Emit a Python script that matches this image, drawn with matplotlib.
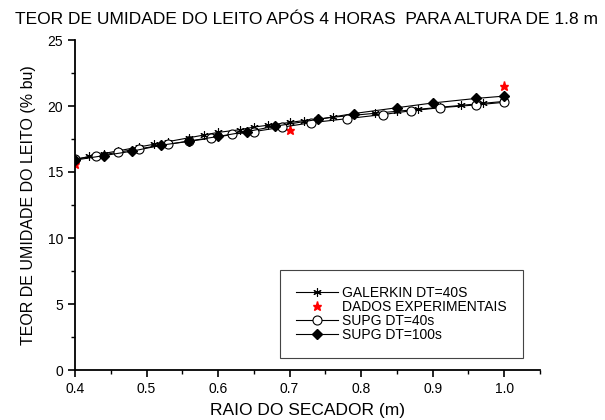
import numpy as np
import matplotlib.pyplot as plt
from matplotlib.ticker import MultipleLocator

plt.rcParams['font.family'] = ['Liberation Sans', 'DejaVu Sans']

# dados
galerkin_x = [0.40, 0.42, 0.44, 0.46, 0.49, 0.51, 0.53, 0.56, 0.58, 0.60, 0.63, 0.65,
              0.67, 0.70, 0.72, 0.74, 0.76, 0.79, 0.82, 0.85, 0.88, 0.91, 0.94, 0.97, 1.00]
galerkin_y = [15.9, 16.2, 16.4, 16.6, 16.9, 17.1, 17.3, 17.6, 17.8, 18.0, 18.2, 18.4,
              18.55, 18.75, 18.9, 19.0, 19.15, 19.3, 19.45, 19.6, 19.75, 19.9, 20.05, 20.2, 20.35]

exp_x = [0.40, 0.70, 1.00]
exp_y = [15.6, 18.2, 21.5]

supg40_x = [0.40, 0.43, 0.46, 0.49, 0.53, 0.56, 0.59, 0.62, 0.65, 0.69, 0.73, 0.78,
            0.83, 0.87, 0.91, 0.96, 1.00]
supg40_y = [16.0, 16.2, 16.5, 16.76, 17.1, 17.33, 17.56, 17.85, 18.06, 18.4, 18.73, 19.04,
            19.35, 19.64, 19.87, 20.08, 20.28]

supg100_x = [0.40, 0.44, 0.48, 0.52, 0.56, 0.60, 0.64, 0.68, 0.74, 0.79, 0.85, 0.90, 0.96, 1.00]
supg100_y = [15.9, 16.24, 16.58, 17.02, 17.35, 17.69, 18.06, 18.47, 18.99, 19.43, 19.87, 20.23, 20.57, 20.75]

fig = plt.figure(figsize=(6.05, 4.2), dpi=100)
ax = fig.add_axes([75/605, 50/420, 465/605, 330/420])

ax.plot(galerkin_x, galerkin_y, color='black', lw=0.8, marker=(6, 2, 0), ms=6,
        mew=0.8, label='GALERKIN DT=40S')
ax.plot(exp_x, exp_y, ls='none', marker='*', color='red', ms=6.5, label='DADOS EXPERIMENTAIS')
ax.plot(supg40_x, supg40_y, color='black', lw=0.8, marker='o', mfc='white', mec='black',
        ms=6.5, mew=0.8, label='SUPG DT=40s')
ax.plot(supg100_x, supg100_y, color='black', lw=0.8, marker='D', mfc='black', mec='black',
        ms=5.5, label='SUPG DT=100s')

ax.set_xlim(0.4, 1.05)
ax.set_ylim(0, 25)
ax.xaxis.set_major_locator(MultipleLocator(0.1))
ax.xaxis.set_minor_locator(MultipleLocator(0.05))
ax.yaxis.set_major_locator(MultipleLocator(5))
ax.yaxis.set_minor_locator(MultipleLocator(2.5))
ax.xaxis.set_major_formatter(plt.FuncFormatter(lambda v, p: f'{v:.1f}'))

for s in ['top', 'right']:
    ax.spines[s].set_visible(False)
for s in ['left', 'bottom']:
    ax.spines[s].set_linewidth(1.3)
ax.tick_params(which='major', direction='out', length=5, width=1.2, labelsize=10)
ax.tick_params(which='minor', direction='out', length=3, width=1.0)

ax.set_xlabel('RAIO DO SECADOR (m)', fontsize=12.5, labelpad=5)
ax.set_ylabel('TEOR DE UMIDADE DO LEITO (% bu)', fontsize=11.5, labelpad=8)
fig.text(306/605, 1 - 19/420, 'TEOR DE UMIDADE DO LEITO APÓS 4 HORAS  PARA ALTURA DE 1.8 m',
         fontsize=12.5, va='center', ha='center')

# legenda com caixa simples
leg = ax.legend(loc='lower right', bbox_to_anchor=(0.963, 0.036), fontsize=10,
                fancybox=False, edgecolor='#444444', framealpha=1,
                handlelength=3.0, handletextpad=0.3, borderpad=1.15, labelspacing=0.0,
                borderaxespad=0)
leg.get_frame().set_linewidth(0.8)

fig.savefig('out.png', dpi=100)
